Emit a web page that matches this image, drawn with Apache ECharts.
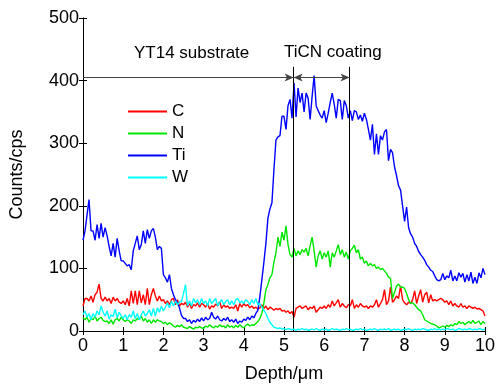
<!DOCTYPE html>
<html><head><meta charset="utf-8">
<script src="https://cdn.jsdelivr.net/npm/echarts@6/dist/echarts.min.js"></script>
<style>html,body{margin:0;padding:0;background:#fff}#c{width:498px;height:388px}</style>
</head><body><div id="c"></div>
<script>
// Depth samples: 0 .. 10 µm, 0.05 µm step (201 points)
const depthStep = 0.05;
const seriesNames = ['C', 'N', 'Ti', 'W'];
const xTicks = [0,1,2,3,4,5,6,7,8,9,10];
const yTicks = [0,100,200,300,400,500];

const C = [
40,52,52,48,56,46,58,62,75,52,48,54,48,52,44,54,48,52,46,44,
48,42,52,40,64,44,64,42,64,45,58,42,68,42,58,68,56,48,56,48,
50,44,48,42,50,52,42,50,40,44,42,46,38,44,36,42,40,45,38,44,
42,38,44,35,40,38,43,40,47,36,42,38,40,36,38,36,42,32,44,38,
44,40,42,37,40,36,38,35,37,42,36,40,34,38,36,33,36,34,36,32,
33,30,32,28,31,22,36,38,40,36,38,40,34,38,36,40,30,34,38,36,
40,36,42,38,48,40,45,50,38,44,40,37,42,40,50,36,42,38,44,40,
38,40,36,40,38,42,50,38,44,50,66,42,48,70,46,50,56,52,72,50,
45,42,46,44,50,64,44,56,66,46,58,62,45,58,48,50,48,50,52,50,
46,48,42,48,40,44,40,38,44,38,40,36,40,38,36,38,35,36,34,32,
24];
const N = [
21,18,22,14,20,18,24,16,20,22,17,15,16,12,18,11,18,20,16,22,
18,15,18,16,12,18,16,20,18,24,16,20,14,18,12,18,14,18,16,15,
12,14,10,13,11,8,6,9,7,10,6,5,4,7,5,3,6,5,7,5,
4,8,6,10,7,5,8,6,10,7,8,5,10,6,8,5,9,6,10,7,
5,9,11,8,10,9,12,15,20,28,45,66,74,85,90,110,125,150,135,158,
145,168,138,122,118,132,120,128,122,130,126,132,120,136,150,128,102,120,128,115,
125,118,128,102,125,118,128,138,122,130,118,126,115,128,132,137,125,130,115,118,
108,112,104,108,104,106,100,102,98,100,96,92,86,84,52,62,72,75,70,70,
68,60,50,44,45,42,38,34,32,26,18,16,14,12,11,10,8,5,6,8,
6,9,7,10,8,12,10,15,12,14,10,13,15,12,17,12,14,16,10,15,
12];
const Ti = [
145,160,185,210,160,160,145,170,148,172,150,165,152,135,120,140,118,148,128,112,
112,108,104,106,98,128,140,152,130,138,160,140,162,148,160,164,150,130,135,132,
90,85,78,90,68,58,50,45,37,25,20,20,15,18,12,17,14,19,15,21,
16,22,18,20,30,22,19,24,18,16,20,17,22,15,18,14,19,12,16,14,
19,17,22,18,24,21,28,33,55,82,110,140,180,195,205,258,305,310,312,343,
343,322,360,370,340,396,342,388,365,380,350,380,372,338,375,408,360,352,345,340,
352,333,348,365,380,362,340,370,368,338,368,360,340,352,336,352,350,338,345,335,
348,338,322,305,330,282,315,282,312,305,318,322,272,290,285,262,248,232,225,200,
175,198,165,155,150,140,135,127,122,118,113,106,102,97,95,88,82,80,82,92,
82,88,85,97,80,88,80,93,86,92,78,90,80,94,76,86,76,93,85,100,
90];
const W = [
26,32,22,28,18,28,22,32,26,40,30,24,32,19,26,23,35,21,30,24,
20,26,18,26,22,32,20,28,18,26,32,24,28,34,24,36,24,37,30,40,
32,38,45,37,48,40,48,42,46,47,60,74,40,48,40,52,45,50,42,52,
44,48,40,52,44,48,52,40,46,50,42,47,50,42,48,42,50,52,45,48,
44,50,47,42,50,44,52,42,44,38,33,28,20,14,10,6,5,4,5,3,
4,2,4,3,2,3,1,3,2,4,2,3,1,2,3,2,4,2,1,3,
2,3,1,2,4,2,3,2,1,3,2,4,2,3,1,2,3,2,4,2,
3,1,2,3,2,4,2,1,3,2,3,2,4,1,2,3,2,3,1,2,
3,2,4,2,1,3,2,3,2,4,3,2,1,3,2,4,2,3,2,3,
2,4,3,2,3,1,2,4,3,2,3,2,4,3,2,3,2,4,3,2,
3];

// Annotation: coating boundaries (µm) and arrow level (cps)
const boundaryDepths = [5.24, 6.63];
const boundaryTop = 422;
const arrowLevel = 405;

const colors = ['#ff0000', '#00e600', '#0000ff', '#00ffff'];
const values = [C, N, Ti, W];
const toPairs = arr => arr.map((v, i) => [+(i * depthStep).toFixed(2), v]);

const FONT = 'Liberation Sans, Arial, sans-serif';
const chart = echarts.init(document.getElementById('c'), null, {renderer: 'canvas'});

const series = seriesNames.map((name, k) => ({
  name, type: 'line', data: toPairs(values[k]), showSymbol: false, symbol: 'none',
  lineStyle: {width: 1.4, color: colors[k]}, itemStyle: {color: colors[k]},
  animation: false, z: 2 + k
}));
series[0].markLine = {
  silent: true, animation: false, symbol: ['none', 'none'], symbolSize: [6, 9],
  label: {show: false},
  lineStyle: {color: '#000', width: 1, type: 'solid'},
  emphasis: {disabled: true},
  data: [
    [{coord: [boundaryDepths[0], 0]}, {coord: [boundaryDepths[0], boundaryTop]}],
    [{coord: [boundaryDepths[1], 0]}, {coord: [boundaryDepths[1], boundaryTop]}],
    [{coord: [0, arrowLevel], symbol: 'none', lineStyle: {color: '#444'}}, {coord: [boundaryDepths[0], arrowLevel], symbol: 'arrow'}],
    [{coord: [boundaryDepths[0], arrowLevel], symbol: 'arrow', lineStyle: {color: '#444'}}, {coord: [boundaryDepths[1], arrowLevel], symbol: 'arrow'}]
  ]
};

const axisCommon = {
  min: 0, axisLine: {show: true, lineStyle: {color: '#000', width: 1}},
  axisTick: {show: true, inside: true, length: 4, lineStyle: {color: '#000'}},
  splitLine: {show: false}
};

chart.setOption({
  animation: false,
  textStyle: {fontFamily: FONT},
  grid: {left: 82, right: 8, top: 18, bottom: 55, containLabel: false},
  legend: {
    orient: 'vertical', left: 128, top: 103, padding: 0, itemWidth: 39, itemHeight: 2, itemGap: 5,
    icon: 'rect',
    textStyle: {fontSize: 17, color: '#000', fontFamily: FONT},
    data: seriesNames,
    selectedMode: false
  },
  xAxis: [
    Object.assign({}, axisCommon, {type: 'value', max: 10, interval: 1, position: 'bottom',
      name: 'Depth/\u03bcm', nameLocation: 'middle', nameGap: 34,
      nameTextStyle: {fontSize: 18, color: '#000', fontFamily: FONT},
      axisLabel: {fontSize: 18, color: '#000', margin: 6, fontFamily: FONT,
        formatter: v => xTicks.includes(v) ? String(v) : ''}}),
    Object.assign({}, axisCommon, {type: 'value', max: 10, interval: 1, position: 'top', axisLabel: {show: false}})
  ],
  yAxis: [
    Object.assign({}, axisCommon, {type: 'value', max: 500, interval: 100, position: 'left',
      name: 'Counts/cps', nameLocation: 'middle', nameGap: 57,
      nameTextStyle: {fontSize: 18, color: '#000', fontFamily: FONT},
      axisLabel: {fontSize: 18, color: '#000', margin: 4, fontFamily: FONT,
        formatter: v => yTicks.includes(v) ? String(v) : ''}}),
    Object.assign({}, axisCommon, {type: 'value', max: 500, interval: 100, position: 'right', axisLabel: {show: false}})
  ],
  graphic: [
    {type: 'text', left: 134, top: 45, style: {text: 'YT14 substrate', fontSize: 17, fill: '#000', fontFamily: FONT}},
    {type: 'text', left: 284, top: 44, style: {text: 'TiCN coating', fontSize: 17, fill: '#000', fontFamily: FONT}}
  ],
  series
});
</script></body></html>
